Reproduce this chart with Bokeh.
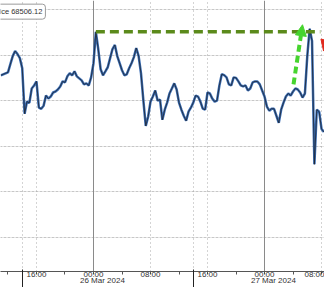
import pandas as pd
from bokeh.plotting import figure
from bokeh.models import (Range1d, FixedTicker, DatetimeAxis, Grid, Label,
                          Arrow, NormalHead, ColumnDataSource)
from bokeh.embed import file_html
from bokeh.resources import INLINE

# ---- data (BTC price, 20-minute samples starting 25 Mar 2024 11:00) ----
series_start = "2024-03-25 11:00"
prices = [
    70556, 70578, 70600, 70622, 70800, 70978, 71089, 71022, 70933, 70711,
    69711, 69978, 69950, 70267, 70333, 70422, 69844, 69820, 69889, 70111,
    70044, 70089, 70178, 70200, 70244, 70311, 70422, 70400, 70533, 70600,
    70556, 70644, 70533, 70489, 70444, 70356, 70378, 70333, 70511, 70822,
    71511, 71133, 70689, 70556, 70644, 70733, 70933, 71133, 71222, 70978,
    70822, 70667, 70556, 70578, 70711, 70822, 70956, 71156, 70978, 70600,
    70000, 69444, 69644, 69978, 70089, 70222, 70000, 70022, 69578, 69800,
    69956, 70156, 70267, 70378, 70244, 69956, 69800, 69667, 69556, 69756,
    69844, 69956, 70111, 70089, 69978, 69822, 69800, 70178, 70156, 70044,
    69978, 70000, 70333, 70578, 70560, 70511, 70356, 70333, 70511, 70500,
    70422, 70333, 70311, 70333, 70222, 70267, 70400, 70422, 70420, 70356,
    70222, 70089, 69867, 69778, 69822, 69820, 69667, 69511, 69800, 69956,
    70089, 70156, 70111, 70200, 70267, 70244, 70178, 70067, 70156, 70978,
    71578, 71311, 68600, 69800, 69756, 69378, 69311,
]
times = pd.date_range(series_start, periods=len(prices), freq="20min")

view_start, view_end = "2024-03-25 10:57", "2024-03-27 08:25"
price_low, price_high = 66244, 72200

tick_times = ["2024-03-25 16:00", "2024-03-26 00:00", "2024-03-26 08:00",
              "2024-03-26 16:00", "2024-03-27 00:00", "2024-03-27 08:00"]
tick_labels = ["16:00", "00:00", "08:00", "16:00", "00:00", "08:00"]
minor_tick_times = ["2024-03-25 12:00", "2024-03-25 20:00", "2024-03-26 04:00",
                    "2024-03-26 12:00", "2024-03-26 20:00", "2024-03-27 04:00"]
date_label_times = ["2024-03-26 01:15", "2024-03-27 01:15"]
date_labels = ["26 Mar 2024", "27 Mar 2024"]
session_times = ["2024-03-25 14:00", "2024-03-26 14:00"]
midnight_times = ["2024-03-26 00:00", "2024-03-27 00:00"]
dotted_vtimes = ["2024-03-25 14:00", "2024-03-25 16:00", "2024-03-26 08:00",
                 "2024-03-26 14:00", "2024-03-26 16:00", "2024-03-27 08:00"]
price_grid = [67000, 68000, 69000, 70000, 71000, 72000]

resistance_level = 71511
resistance_span = ["2024-03-26 00:20", "2024-03-27 07:50"]
rally_arrow = (("2024-03-27 04:04", 70356), ("2024-03-27 05:20", 71667))
drop_arrow = (("2024-03-27 09:33", 71867), ("2024-03-27 08:17", 71089))
legend_text = "ice 68506.12"


def ms(s):
    return pd.Timestamp(s).value // 10**6


FONT = "Liberation Sans"
TXT = "#333333"

p = figure(width=324, height=287, x_axis_type="datetime",
           x_range=Range1d(ms(view_start), ms(view_end)),
           y_range=Range1d(price_low, price_high),
           y_axis_location=None, toolbar_location=None,
           output_backend="svg", min_border=0)
p.min_border_left = p.min_border_right = p.min_border_top = p.min_border_bottom = 0
p.outline_line_color = None
p.xgrid.grid_line_color = None

# grids
p.add_layout(Grid(dimension=1, ticker=FixedTicker(ticks=price_grid),
                  grid_line_color="#a8a8a8", grid_line_dash="1 3", grid_line_width=1))
p.add_layout(Grid(dimension=0, ticker=FixedTicker(ticks=[ms(t) for t in dotted_vtimes]),
                  grid_line_color="#a8a8a8", grid_line_dash="1 3", grid_line_width=1))
p.add_layout(Grid(dimension=0, ticker=FixedTicker(ticks=[ms(t) for t in midnight_times]),
                  grid_line_color="#8a8a8a", grid_line_width=1))

# main x axis
ax = p.xaxis[0]
ax.ticker = FixedTicker(ticks=[ms(t) for t in tick_times],
                        minor_ticks=[ms(t) for t in minor_tick_times])
ax.major_label_overrides = {ms(t): l for t, l in zip(tick_times, tick_labels)}
ax.major_tick_in = 0
ax.major_tick_out = 3
ax.minor_tick_in = 0
ax.minor_tick_out = 3
ax.axis_line_color = "#555555"
ax.major_tick_line_color = "#555555"
ax.minor_tick_line_color = "#555555"
ax.major_label_standoff = -5
ax.major_label_text_font = FONT
ax.major_label_text_font_size = "8px"
ax.major_label_text_color = TXT

# date axis with session separators
ax2 = DatetimeAxis(ticker=FixedTicker(ticks=[ms(t) for t in date_label_times],
                                      minor_ticks=[ms(t) for t in session_times]))
ax2.major_label_overrides = {ms(t): l for t, l in zip(date_label_times, date_labels)}
ax2.major_tick_in = 0
ax2.major_tick_out = 0
ax2.minor_tick_in = 12
ax2.minor_tick_out = 8
ax2.minor_tick_line_color = "#222222"
ax2.axis_line_color = None
ax2.major_label_standoff = -14
ax2.major_label_text_font = FONT
ax2.major_label_text_font_size = "8px"
ax2.major_label_text_color = TXT
p.add_layout(ax2, "below")

# price line
src = ColumnDataSource(dict(t=times, price=prices))
p.line("t", "price", source=src, line_color="#3a6db4", line_width=2.5)
p.line("t", "price", source=src, line_color="#1e2430", line_width=0.8)

# resistance dashed line
p.line([pd.Timestamp(t) for t in resistance_span], [resistance_level] * 2,
       line_color="#5b8a1b", line_width=3.5, line_dash="9 5")

# arrows
(a0, a1) = rally_arrow
p.add_layout(Arrow(x_start=ms(a0[0]), y_start=a0[1], x_end=ms(a1[0]), y_end=a1[1],
                   line_color="#46d42e", line_width=4, line_dash="7 4",
                   end=NormalHead(size=11, fill_color="#46d42e", line_color="#46d42e")))
(b0, b1) = drop_arrow
p.add_layout(Arrow(x_start=ms(b0[0]), y_start=b0[1], x_end=ms(b1[0]), y_end=b1[1],
                   line_color="#e02a1e", line_width=4,
                   end=NormalHead(size=11, fill_color="#e02a1e", line_color="#e02a1e")))

# legend box
p.add_layout(Label(x=ms("2024-03-25 10:23"), y=71955, text=legend_text,
                   text_font=FONT, text_font_size="7.5px", text_color=TXT,
                   text_baseline="middle", text_align="left",
                   background_fill_color="white", border_line_color="#9a9a9a",
                   border_line_width=1, padding=3, border_radius=3))

open("out.html", "w").write(file_html(p, INLINE))
